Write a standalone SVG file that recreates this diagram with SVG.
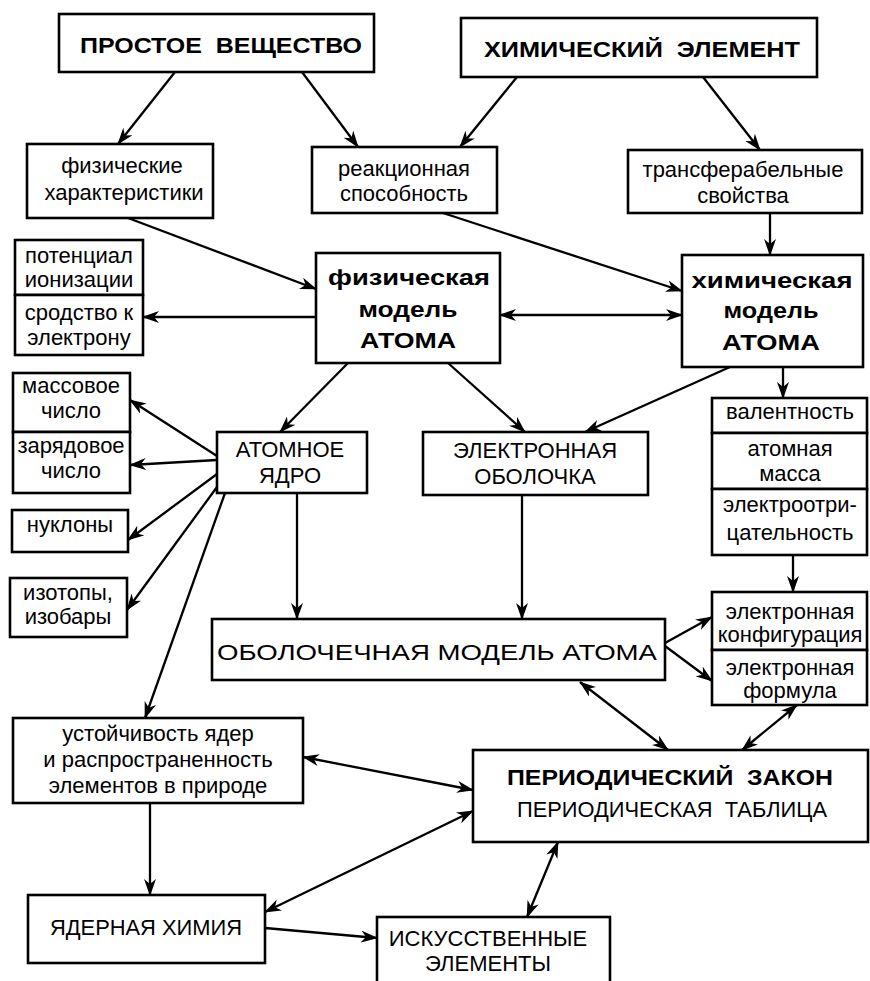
<svg xmlns="http://www.w3.org/2000/svg" width="870" height="981" viewBox="0 0 870 981">
<style>
  .box{fill:#fff;stroke:#000;stroke-width:2.6}
  .t{font-family:"Liberation Sans",Arial,sans-serif;font-size:22px;fill:#000;text-anchor:middle}
  .b{font-weight:bold}
  .c line{stroke:#000;stroke-width:2.3;fill:none}
</style>
<defs>
  <marker id="ah" viewBox="0 0 17 12" refX="16" refY="6" markerWidth="17" markerHeight="12" markerUnits="userSpaceOnUse" orient="auto-start-reverse">
    <path d="M0,0 L17,6 L0,12 L5,6 z" fill="#000"/>
  </marker>
</defs>
<rect width="870" height="981" fill="#fff"/>

<g class="c" id="connectors">
  <line x1="175" y1="72" x2="118" y2="144" marker-end="url(#ah)"/>
  <line x1="302" y1="72" x2="358" y2="147" marker-end="url(#ah)"/>
  <line x1="517" y1="77" x2="460" y2="147" marker-end="url(#ah)"/>
  <line x1="703" y1="77" x2="760" y2="150" marker-end="url(#ah)"/>
  <line x1="128" y1="218" x2="316" y2="289" marker-end="url(#ah)"/>
  <line x1="443" y1="213" x2="682" y2="291" marker-end="url(#ah)"/>
  <line x1="770" y1="213" x2="770" y2="255" marker-end="url(#ah)"/>
  <line x1="316" y1="317" x2="143" y2="317" marker-end="url(#ah)"/>
  <line x1="500" y1="315" x2="682" y2="315" marker-start="url(#ah)" marker-end="url(#ah)"/>
  <line x1="348" y1="363" x2="280" y2="432" marker-end="url(#ah)"/>
  <line x1="448" y1="363" x2="525" y2="432" marker-end="url(#ah)"/>
  <line x1="730" y1="367" x2="585" y2="432" marker-end="url(#ah)"/>
  <line x1="783" y1="367" x2="783" y2="398" marker-end="url(#ah)"/>
  <line x1="217" y1="456" x2="130" y2="400" marker-end="url(#ah)"/>
  <line x1="217" y1="460" x2="130" y2="465" marker-end="url(#ah)"/>
  <line x1="217" y1="474" x2="128" y2="540" marker-end="url(#ah)"/>
  <line x1="217" y1="487" x2="127" y2="610" marker-end="url(#ah)"/>
  <line x1="225" y1="493" x2="145" y2="718" marker-end="url(#ah)"/>
  <line x1="297" y1="493" x2="297" y2="619" marker-end="url(#ah)"/>
  <line x1="522" y1="495" x2="522" y2="619" marker-end="url(#ah)"/>
  <line x1="793" y1="555" x2="793" y2="592" marker-end="url(#ah)"/>
  <line x1="665" y1="643" x2="712" y2="617" marker-end="url(#ah)"/>
  <line x1="665" y1="646" x2="712" y2="681" marker-end="url(#ah)"/>
  <line x1="580" y1="682" x2="668" y2="750" marker-start="url(#ah)" marker-end="url(#ah)"/>
  <line x1="797" y1="705" x2="742" y2="750" marker-start="url(#ah)" marker-end="url(#ah)"/>
  <line x1="303" y1="757" x2="473" y2="790" marker-start="url(#ah)" marker-end="url(#ah)"/>
  <line x1="265" y1="912" x2="473" y2="811" marker-start="url(#ah)" marker-end="url(#ah)"/>
  <line x1="150" y1="803" x2="150" y2="895" marker-end="url(#ah)"/>
  <line x1="265" y1="928" x2="377" y2="938" marker-end="url(#ah)"/>
  <line x1="558" y1="842" x2="527" y2="917" marker-start="url(#ah)" marker-end="url(#ah)"/>
</g>

<g id="prostoe">
  <rect class="box" x="59" y="14" width="315" height="58"/>
  <text class="t b" x="221" y="53" font-size="29" textLength="282" lengthAdjust="spacingAndGlyphs">ПРОСТОЕ&#160;&#160;ВЕЩЕСТВО</text>
</g>
<g id="himelement">
  <rect class="box" x="461" y="18" width="356" height="59"/>
  <text class="t b" x="642" y="57" font-size="29" textLength="316" lengthAdjust="spacingAndGlyphs">ХИМИЧЕСКИЙ&#160;&#160;ЭЛЕМЕНТ</text>
</g>
<g id="fizhar">
  <rect class="box" x="27" y="144" width="186" height="74"/>
  <text class="t" x="122" y="173">физические</text>
  <text class="t" x="124" y="200">характеристики</text>
</g>
<g id="reakc">
  <rect class="box" x="312" y="147" width="185" height="66"/>
  <text class="t" x="404" y="176">реакционная</text>
  <text class="t" x="404" y="201">способность</text>
</g>
<g id="transf">
  <rect class="box" x="628" y="150" width="234" height="63"/>
  <text class="t" x="743" y="177">трансферабельные</text>
  <text class="t" x="743" y="203">свойства</text>
</g>
<g id="potenc">
  <rect class="box" x="15" y="240" width="128" height="55"/>
  <text class="t" x="79" y="263">потенциал</text>
  <text class="t" x="79" y="287">ионизации</text>
</g>
<g id="srodstvo">
  <rect class="box" x="15" y="295" width="128" height="60"/>
  <text class="t" x="79" y="320">сродство к</text>
  <text class="t" x="79" y="345">электрону</text>
</g>
<g id="fizmodel">
  <rect class="box" x="316" y="253" width="184" height="110"/>
  <text class="t b" x="409" y="285" font-size="28" textLength="162" lengthAdjust="spacingAndGlyphs">физическая</text>
  <text class="t b" x="408" y="317" font-size="28" textLength="99" lengthAdjust="spacingAndGlyphs">модель</text>
  <text class="t b" x="408" y="348" font-size="29" textLength="96" lengthAdjust="spacingAndGlyphs">АТОМА</text>
</g>
<g id="himmodel">
  <rect class="box" x="682" y="255" width="181" height="112"/>
  <text class="t b" x="772" y="288" font-size="28" textLength="161" lengthAdjust="spacingAndGlyphs">химическая</text>
  <text class="t b" x="771" y="318" font-size="28" textLength="95" lengthAdjust="spacingAndGlyphs">модель</text>
  <text class="t b" x="771" y="350" font-size="29" textLength="98" lengthAdjust="spacingAndGlyphs">АТОМА</text>
</g>
<g id="massovoe">
  <rect class="box" x="13" y="373" width="117" height="59"/>
  <text class="t" x="71" y="393">массовое</text>
  <text class="t" x="71" y="418">число</text>
</g>
<g id="zaryad">
  <rect class="box" x="13" y="432" width="117" height="61"/>
  <text class="t" x="71" y="453">зарядовое</text>
  <text class="t" x="71" y="478">число</text>
</g>
<g id="nuklony">
  <rect class="box" x="12" y="510" width="116" height="42"/>
  <text class="t" x="70" y="532">нуклоны</text>
</g>
<g id="izotopy">
  <rect class="box" x="10" y="578" width="117" height="59"/>
  <text class="t" x="68" y="600">изотопы,</text>
  <text class="t" x="68" y="624">изобары</text>
</g>
<g id="yadro">
  <rect class="box" x="217" y="432" width="150" height="61"/>
  <text class="t" x="290" y="457">АТОМНОЕ</text>
  <text class="t" x="290" y="483">ЯДРО</text>
</g>
<g id="obolochka">
  <rect class="box" x="423" y="432" width="225" height="63"/>
  <text class="t" x="535" y="458">ЭЛЕКТРОННАЯ</text>
  <text class="t" x="535" y="484">ОБОЛОЧКА</text>
</g>
<g id="valent">
  <rect class="box" x="712" y="398" width="155" height="35"/>
  <text class="t" x="790" y="419">валентность</text>
</g>
<g id="atmassa">
  <rect class="box" x="712" y="433" width="155" height="56"/>
  <text class="t" x="790" y="456">атомная</text>
  <text class="t" x="790" y="481">масса</text>
</g>
<g id="electroneg">
  <rect class="box" x="712" y="489" width="155" height="66"/>
  <text class="t" x="790" y="512">электроотри-</text>
  <text class="t" x="790" y="540">цательность</text>
</g>
<g id="konfig">
  <rect class="box" x="712" y="592" width="155" height="58"/>
  <text class="t" x="790" y="619">электронная</text>
  <text class="t" x="790" y="642">конфигурация</text>
</g>
<g id="formula">
  <rect class="box" x="712" y="650" width="155" height="55"/>
  <text class="t" x="790" y="675">электронная</text>
  <text class="t" x="790" y="698">формула</text>
</g>
<g id="obolmodel">
  <rect class="box" x="212" y="619" width="453" height="61"/>
  <text class="t" x="437" y="660" font-size="34" textLength="440" lengthAdjust="spacingAndGlyphs">ОБОЛОЧЕЧНАЯ МОДЕЛЬ АТОМА</text>
</g>
<g id="ustoich">
  <rect class="box" x="13" y="718" width="290" height="85"/>
  <text class="t" x="158" y="741">устойчивость ядер</text>
  <text class="t" x="158" y="767">и распространенность</text>
  <text class="t" x="158" y="793">элементов в природе</text>
</g>
<g id="period">
  <rect class="box" x="473" y="750" width="395" height="92"/>
  <text class="t b" x="670" y="785" font-size="24" textLength="326" lengthAdjust="spacingAndGlyphs">ПЕРИОДИЧЕСКИЙ&#160;&#160;ЗАКОН</text>
  <text class="t" x="672" y="817" font-size="20" textLength="310" lengthAdjust="spacingAndGlyphs">ПЕРИОДИЧЕСКАЯ&#160;&#160;ТАБЛИЦА</text>
</g>
<g id="yadhim">
  <rect class="box" x="28" y="895" width="237" height="68"/>
  <text class="t" x="146" y="935" textLength="192" lengthAdjust="spacingAndGlyphs">ЯДЕРНАЯ ХИМИЯ</text>
</g>
<g id="iskusst">
  <rect class="box" x="377" y="917" width="233" height="70"/>
  <text class="t" x="488" y="946">ИСКУССТВЕННЫЕ</text>
  <text class="t" x="488" y="971">ЭЛЕМЕНТЫ</text>
</g>
</svg>
